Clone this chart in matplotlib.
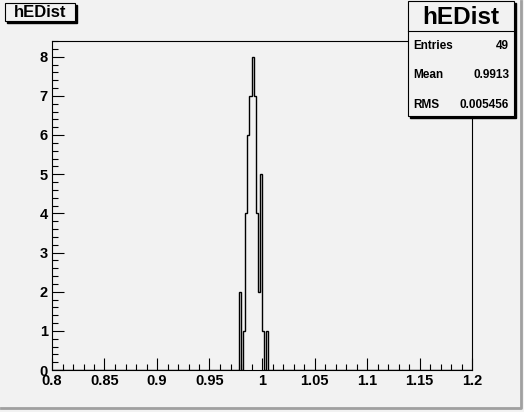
import numpy as np
import matplotlib.pyplot as plt
from matplotlib.patches import Rectangle
from matplotlib.ticker import MultipleLocator, FuncFormatter

# histogram hEDist: 200 bins on [0.8, 1.2], only a few are filled
x_min, x_max, n_bins = 0.8, 1.2, 200
first_bin_lo = 0.978
filled_counts = [2, 0, 1, 4, 6, 7, 8, 7, 4, 2, 5, 1, 0, 1]

stat_names = ["Entries", "Mean", "RMS"]
stat_values = ["49", "0.9913", "0.005456"]
hist_name = "hEDist"

edges = np.linspace(x_min, x_max, n_bins + 1)
counts = np.zeros(n_bins)
i0 = int(round((first_bin_lo - x_min) / (edges[1] - edges[0])))
counts[i0:i0 + len(filled_counts)] = filled_counts

bg = "#f2f2f2"
W, H = 524, 412
fig = plt.figure(figsize=(W / 100, H / 100), dpi=100, facecolor=bg)
ax = fig.add_axes([52 / W, (H - 370) / H, 420 / W, 329 / H], facecolor=bg)

ax.stairs(counts, edges, color="black", linewidth=1.0)
ax.set_xlim(x_min, x_max)
ax.set_ylim(0, counts.max() * 1.05)

ax.xaxis.set_major_locator(MultipleLocator(0.05))
ax.xaxis.set_minor_locator(MultipleLocator(0.01))
ax.yaxis.set_major_locator(MultipleLocator(1))
ax.yaxis.set_minor_locator(MultipleLocator(0.2))
ax.xaxis.set_major_formatter(FuncFormatter(lambda v, p: "%g" % round(v, 3)))
ax.tick_params(which="both", direction="in", top=False, right=False,
               labelsize=10.5, width=0.8)
ax.tick_params(which="major", length=8.5, pad=3)
ax.tick_params(which="minor", length=4.3)
for lab in ax.get_xticklabels() + ax.get_yticklabels():
    lab.set_fontfamily("Liberation Sans")
    lab.set_fontweight("bold")
for s in ax.spines.values():
    s.set_linewidth(0.8)


def box(x0, y0, x1, y1):
    # ROOT pave with a shadow (pixel coords, y from top)
    sh = Rectangle(((x0 + 2) / W, (H - y1 - 2) / H), (x1 - x0) / W, (y1 - y0) / H,
                   transform=fig.transFigure, facecolor="black", edgecolor="black")
    fr = Rectangle((x0 / W, (H - y1) / H), (x1 - x0) / W, (y1 - y0) / H,
                   transform=fig.transFigure, facecolor=bg, edgecolor="black", linewidth=0.8)
    fig.add_artist(sh)
    fig.add_artist(fr)


# title box
box(5, 3, 75, 21)
fig.text(40 / W, (H - 12.5) / H, hist_name, ha="center", va="center",
         fontsize=12, fontweight="bold", family="Liberation Sans")

# stats box
box(408, 1, 514, 116)
fig.add_artist(plt.Line2D([408 / W, 514 / W], [(H - 31) / H] * 2,
                          transform=fig.transFigure, color="black", linewidth=0.8))
fig.text(461 / W, (H - 17) / H, hist_name, ha="center", va="center",
         fontsize=17.5, fontweight="bold", family="Liberation Sans")
for k, (nm, val) in enumerate(zip(stat_names, stat_values)):
    yy = (H - (46 + 29.5 * k)) / H
    fig.text(413 / W, yy, nm, ha="left", va="center", fontsize=8.5,
             fontweight="bold", family="Liberation Sans")
    fig.text(509 / W, yy, val, ha="right", va="center", fontsize=8.5,
             fontweight="bold", family="Liberation Sans")

# canvas border
fig.add_artist(plt.Line2D([(W - 3) / W, (W - 3) / W, 1 / W], [(H - 1) / H, 4 / H, 4 / H],
                          transform=fig.transFigure, color="#a0a0a0", linewidth=2))

fig.savefig("out.png", dpi=100, facecolor=bg)
